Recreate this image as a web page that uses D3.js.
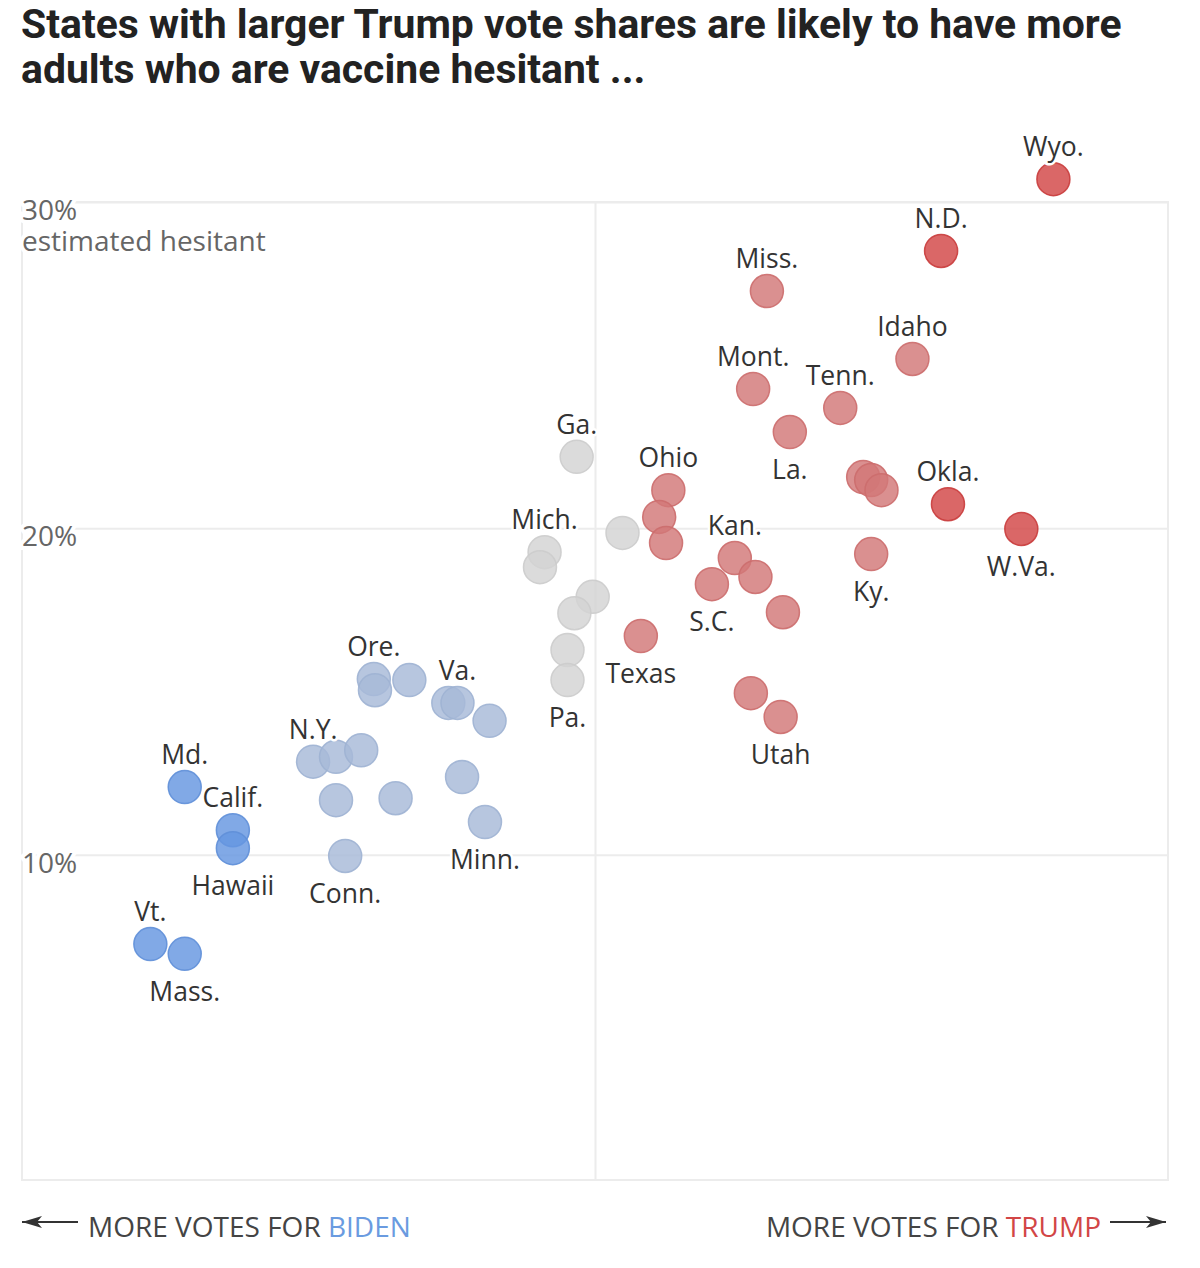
<!DOCTYPE html>
<html>
<head>
<meta charset="utf-8">
<script src="https://cdn.jsdelivr.net/npm/d3@7"></script>
<style>
  html, body { margin: 0; padding: 0; background: #fff; }
  svg { display: block; }
</style>
</head>
<body>
<svg id="chart" width="1200" height="1268"></svg>
<script>
// ---- data ----
const states = ["Vt.","Mass.","Md.","Calif.","Hawaii","N.Y.","Wash.","Del.","R.I.","Conn.",
  "Ore.","Ill.","Colo.","N.J.","N.M.","Va.","N.H.","Maine","Minn.",
  "Ga.","Mich.","Nev.","Fla.","N.C.","Ariz.","Wis.","Pa.",
  "Ohio","Alaska","Iowa","Texas","Kan.","S.C.","Mo.","Neb.","Ind.","Utah",
  "Miss.","Mont.","La.","Tenn.","S.D.","Ala.","Ark.","Ky.","Idaho","N.D.","Wyo.","Okla.","W.Va."];
const trumpShare = [30.6,32.1,32.1,34.2,34.2,37.7,38.7,39.8,38.7,39.1,
  40.35,40.4,41.9,41.3,43.6,44.0,45.4,44.2,45.2,
  49.2,47.8,47.6,51.2,49.9,49.1,48.8,48.8,
  53.2,52.8,53.1,52.0,56.1,55.1,57.0,58.2,56.8,58.1,
  57.5,56.9,58.5,60.7,61.7,62.05,62.5,62.05,63.85,65.1,70.0,65.4,68.6];
const hesitant = [7.26,6.96,12.07,10.75,10.2,12.85,13.0,13.2,11.67,9.96,
  15.38,15.04,15.35,11.73,14.65,14.65,14.1,12.38,11.0,
  22.19,19.27,18.81,19.86,17.9,17.4,16.27,15.35,
  21.17,20.35,19.55,16.7,19.09,18.29,18.51,17.43,14.95,14.22,
  27.27,24.27,22.95,23.69,21.57,21.48,21.17,19.21,25.19,28.5,30.7,20.74,19.98];
const group = ["D+","D+","D+","D+","D+","D","D","D","D","D",
  "D","D","D","D","D","D","D","D","D",
  "T","T","T","T","T","T","T","T",
  "R","R","R","R","R","R","R","R","R","R",
  "R","R","R","R","R","R","R","R","R","R+","R+","R+","R+"];
const labelsAbove = ["Wyo.","N.D.","Miss.","Idaho","Mont.","Tenn.","Ga.","Ohio","Okla.","Mich.","Kan.","Ore.","Va.","N.Y.","Md.","Calif.","Vt."];
const labelsBelow = ["La.","W.Va.","Ky.","S.C.","Texas","Pa.","Utah","Minn.","Hawaii","Conn.","Mass."];
const yTicks = [10, 20, 30];
const xDomain = [25, 75];
const yDomain = [0, 30];
const title = ["States with larger Trump vote shares are likely to have more",
               "adults who are vaccine hesitant ..."];

(function () {
// ---- styles ----
const colors = {
  "D+": "#6596e0",
  "D":  "#a7bad8",
  "T":  "#d3d3d3",
  "R":  "#d27878",
  "R+": "#d24646"
};
const strokeColors = {
  "D+": "#5f8fd8",
  "D":  "#9fb3d3",
  "T":  "#cccccc",
  "R":  "#cc6d6d",
  "R+": "#c93c3c"
};

const svg = d3.select("#chart");
const pLeft = 22, pRight = 1168, pTop = 202, pBottom = 1181;
const textFont = "'Open Sans', 'Liberation Sans', sans-serif";

const x = d3.scaleLinear().domain(xDomain).range([pLeft, pRight]);
const y = d3.scaleLinear().domain(yDomain).range([pBottom, pTop]);

// title
const titleG = svg.append("g");
title.forEach((t, i) => {
  titleG.append("text")
    .attr("x", 21).attr("y", 38 + i * 45)
    .attr("font-family", "Roboto, 'Liberation Sans', sans-serif")
    .attr("font-weight", 700)
    .attr("font-size", 34)
    .attr("fill", "#222")
    .text(t);
});
{
  const n = titleG.select("text").node();
  const w = n.getComputedTextLength();
  const fs = 34 * 1101 / w;
  titleG.selectAll("text").attr("font-size", fs);
}

// frame
svg.append("rect")
  .attr("x", pLeft).attr("y", pTop)
  .attr("width", pRight - pLeft).attr("height", pBottom - pTop - 1)
  .attr("fill", "none").attr("stroke", "#ececec").attr("stroke-width", 2);

// horizontal grid
const yAxis = d3.axisLeft(y).tickValues(yTicks).tickSize(-(pRight - pLeft)).tickFormat("");
const yAxisG = svg.append("g").attr("transform", `translate(${pLeft},0)`).call(yAxis);
yAxisG.select(".domain").remove();
yAxisG.selectAll(".tick line").attr("stroke", "#ececec").attr("stroke-width", 2);

// vertical center line
const xAxis = d3.axisBottom(x).tickValues([50]).tickSize(-(pBottom - pTop)).tickFormat("");
const xAxisG = svg.append("g").attr("transform", `translate(0,${pBottom})`).call(xAxis);
xAxisG.select(".domain").remove();
xAxisG.selectAll(".tick line").attr("stroke", "#ececec").attr("stroke-width", 2);

// y tick labels
yTicks.forEach(v => {
  const t = svg.append("text")
    .attr("x", pLeft).attr("y", y(v) + 18)
    .attr("font-family", textFont).attr("font-size", 28)
    .attr("fill", "#666")
    .attr("stroke", "#fff").attr("stroke-width", 8).attr("paint-order", "stroke");
  t.append("tspan").text(v + "%");
  if (v === 30) {
    t.append("tspan").attr("x", pLeft).attr("dy", 31).text("estimated hesitant");
  }
});

// data rows
const rows = states.map((s, i) => ({ s, tx: trumpShare[i], h: hesitant[i], g: group[i] }));

// dots
svg.append("g").selectAll("circle")
  .data(rows).join("circle")
  .attr("cx", d => x(d.tx))
  .attr("cy", d => y(d.h))
  .attr("r", 16.5)
  .attr("fill", d => colors[d.g])
  .attr("fill-opacity", 0.82)
  .attr("stroke", d => strokeColors[d.g])
  .attr("stroke-opacity", 0.9)
  .attr("stroke-width", 1.5);

// labels
const labelG = svg.append("g")
  .attr("font-family", textFont).attr("font-size", 26.5)
  .attr("fill", "#333").attr("text-anchor", "middle");
rows.forEach(d => {
  let dy = null;
  if (labelsAbove.includes(d.s)) dy = -23;
  else if (labelsBelow.includes(d.s)) dy = 47;
  if (dy === null) return;
  labelG.append("text")
    .attr("x", x(d.tx)).attr("y", y(d.h) + dy)
    .attr("stroke", "#fff").attr("stroke-width", 5).attr("paint-order", "stroke")
    .text(d.s);
});

// bottom annotations
const defs = svg.append("defs");
defs.append("marker").attr("id", "ah").attr("viewBox", "0 0 20 12")
  .attr("refX", 20).attr("refY", 6).attr("markerWidth", 20).attr("markerHeight", 12)
  .attr("markerUnits", "userSpaceOnUse").attr("orient", "auto")
  .append("path").attr("d", "M0,0 L20,6 L0,12 L5,6 Z").attr("fill", "#333");

svg.append("line").attr("x1", 78).attr("x2", 22).attr("y1", 1222).attr("y2", 1222)
  .attr("stroke", "#333").attr("stroke-width", 2).attr("marker-end", "url(#ah)");
svg.append("line").attr("x1", 1110).attr("x2", 1166).attr("y1", 1222).attr("y2", 1222)
  .attr("stroke", "#333").attr("stroke-width", 2).attr("marker-end", "url(#ah)");

const leftT = svg.append("text").attr("x", 88).attr("y", 1237)
  .attr("font-family", textFont).attr("font-size", 28).attr("fill", "#444");
leftT.append("tspan").text("MORE VOTES FOR ");
leftT.append("tspan").attr("fill", "#6a9be0").text("BIDEN");

const rightT = svg.append("text").attr("x", 1101).attr("y", 1237).attr("text-anchor", "end")
  .attr("font-family", textFont).attr("font-size", 28).attr("fill", "#444");
rightT.append("tspan").text("MORE VOTES FOR ");
rightT.append("tspan").attr("fill", "#d24646").text("TRUMP");
})();
</script>
</body>
</html>
